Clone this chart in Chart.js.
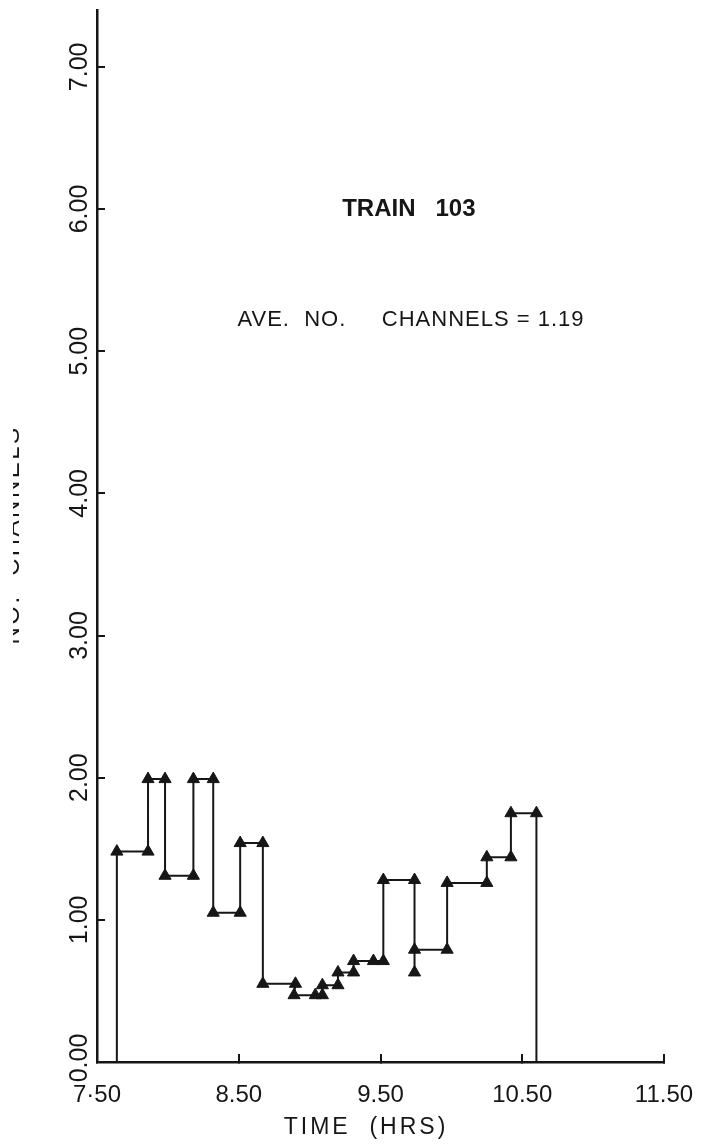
<!DOCTYPE html>
<html>
<head>
<meta charset="utf-8">
<script src="https://cdn.jsdelivr.net/npm/chart.js@4/dist/chart.umd.min.js"></script>
<style>
  html, body { margin: 0; padding: 0; background: #ffffff; }
  #wrap { width: 702px; height: 1147px; position: relative; }
  canvas { display: block; }
</style>
</head>
<body>
<div id="wrap"><canvas id="c" width="702" height="1147"></canvas></div>
<script>
// ---- data ----
const xTickValues = [7.5, 8.5, 9.5, 10.5, 11.5];
const xTickLabels = ['7·50', '8.50', '9.50', '10.50', '11.50'];
const yTickValues = [0, 1, 2, 3, 4, 5, 6, 7];
const yTickLabels = ['0.00', '1.00', '2.00', '3.00', '4.00', '5.00', '6.00', '7.00'];

const timeHrs = [7.64, 7.64, 7.86, 7.86, 7.98, 7.98, 8.18, 8.18, 8.32, 8.32,
                 8.51, 8.51, 8.67, 8.67, 8.90, 8.89, 9.04, 9.09, 9.09, 9.20,
                 9.20, 9.31, 9.31, 9.45, 9.52, 9.52, 9.74, 9.74, 9.74, 9.97,
                 9.97, 10.25, 10.25, 10.42, 10.42, 10.60, 10.60];
const channels = [0, 1.48, 1.48, 1.99, 1.99, 1.31, 1.31, 1.99, 1.99, 1.05,
                  1.05, 1.54, 1.54, 0.55, 0.55, 0.47, 0.47, 0.47, 0.54, 0.54,
                  0.63, 0.63, 0.71, 0.71, 0.71, 1.28, 1.28, 0.63, 0.79, 0.79,
                  1.26, 1.26, 1.44, 1.44, 1.75, 1.75, 0];

const plotTitle = 'TRAIN   103';
const aveLabel = 'AVE.  NO.     CHANNELS = 1.19';
const xAxisTitle = 'TIME  (HRS)';
const yAxisTitle = 'NO.  CHANNELS';

const INK = '#161616';
const FONT = '"Liberation Sans", Arial, sans-serif';

const points = timeHrs.map((t, i) => ({ x: t, y: channels[i] }));

const textPlugin = {
  id: 'textPlugin',
  afterDraw(chart) {
    const ctx = chart.ctx;
    const xs = chart.scales.x, ys = chart.scales.y;
    ctx.save();
    ctx.fillStyle = INK;

    // rotated y tick labels
    ctx.font = '25px ' + FONT;
    ctx.textAlign = 'center';
    ctx.textBaseline = 'middle';
    yTickValues.forEach((v, i) => {
      const py = ys.getPixelForValue(v) - (v === 0 ? 4 : 0);
      ctx.save();
      ctx.translate(80, py);
      ctx.rotate(-Math.PI / 2);
      ctx.fillText(yTickLabels[i], 0, 0);
      ctx.restore();
    });

    // annotation texts
    ctx.font = 'bold 24px ' + FONT;
    ctx.letterSpacing = '0px';
    ctx.fillText(plotTitle, xs.getPixelForValue(9.70), ys.getPixelForValue(6.0));

    ctx.font = '22px ' + FONT;
    ctx.letterSpacing = '1px';
    ctx.fillText(aveLabel, xs.getPixelForValue(9.715), ys.getPixelForValue(5.22));

    // x axis title
    ctx.font = '23px ' + FONT;
    ctx.letterSpacing = '3px';
    ctx.fillText(xAxisTitle, 366, 1128);

    // y axis title (partly cut at the left edge as in the scan)
    ctx.save();
    ctx.beginPath();
    ctx.rect(13, 0, 100, 1147);
    ctx.clip();
    ctx.translate(12, 535);
    ctx.rotate(-Math.PI / 2);
    ctx.font = '24px ' + FONT;
    ctx.letterSpacing = '2.5px';
    ctx.fillText(yAxisTitle, 0, 0);
    ctx.restore();

    ctx.restore();
  }
};

new Chart(document.getElementById('c'), {
  type: 'scatter',
  data: {
    datasets: [{
      data: points,
      showLine: true,
      borderColor: INK,
      borderWidth: 2,
      backgroundColor: INK,
      pointStyle: 'triangle',
      pointBackgroundColor: INK,
      pointBorderColor: INK,
      pointBorderWidth: 1,
      pointRadius: ctx => (channels[ctx.dataIndex] === 0 ? 0 : 7),
      tension: 0,
      clip: false
    }]
  },
  options: {
    responsive: false,
    devicePixelRatio: 1,
    animation: false,
    layout: { padding: { top: 10, right: 38, left: 0, bottom: 0 } },
    plugins: { legend: { display: false }, tooltip: { enabled: false }, title: { display: false } },
    scales: {
      x: {
        type: 'linear',
        position: 'bottom',
        min: 7.5,
        max: 11.5,
        afterBuildTicks: s => { s.ticks = xTickValues.map(v => ({ value: v })); },
        afterFit: s => { s.height = 85; s.paddingLeft = 0; s.paddingRight = 0; },
        ticks: {
          callback: v => xTickLabels[xTickValues.indexOf(v)],
          font: { family: FONT, size: 24 },
          color: INK,
          padding: 27,
          maxRotation: 0,
          minRotation: 0,
          autoSkip: false
        },
        grid: { drawOnChartArea: false, drawTicks: true, tickLength: -8, color: INK, lineWidth: 2 },
        border: { display: true, color: INK, width: 2.5 }
      },
      y: {
        type: 'linear',
        position: 'left',
        min: 0,
        max: 7.4,
        afterBuildTicks: s => { s.ticks = yTickValues.map(v => ({ value: v })); },
        afterFit: s => { s.width = 97; s.paddingTop = 0; s.paddingBottom = 0; },
        ticks: { display: false },
        grid: { drawOnChartArea: false, drawTicks: true, tickLength: -8, color: INK, lineWidth: 2 },
        border: { display: true, color: INK, width: 2.5 }
      }
    }
  },
  plugins: [textPlugin]
});
</script>
</body>
</html>
